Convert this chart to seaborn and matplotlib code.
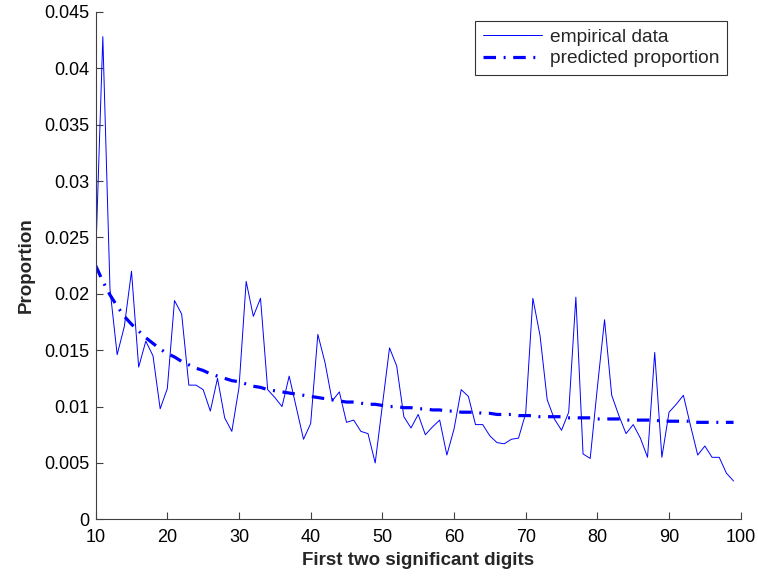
import pandas as pd
import seaborn as sns
import matplotlib.pyplot as plt
from matplotlib.ticker import FuncFormatter

digits = list(range(10, 100))

empirical = [
    0.0231, 0.0428, 0.0204, 0.0146, 0.0171, 0.0220, 0.0135, 0.0158, 0.0145, 0.0098,
    0.0116, 0.0194, 0.0182, 0.0119, 0.0119, 0.0115, 0.0096, 0.0125, 0.0090, 0.0078,
    0.0117, 0.0211, 0.0180, 0.0196, 0.0115, 0.0108, 0.0100, 0.0127, 0.0099, 0.0071,
    0.0085, 0.0164, 0.0139, 0.0105, 0.0113, 0.0086, 0.0088, 0.0078, 0.0076, 0.0050,
    0.0101, 0.0152, 0.0136, 0.0091, 0.0081, 0.0093, 0.0075, 0.0082, 0.0088, 0.0057,
    0.0080, 0.0115, 0.0109, 0.0084, 0.0084, 0.0074, 0.0068, 0.0067, 0.0071, 0.0072,
    0.0094, 0.0196, 0.0163, 0.0106, 0.0089, 0.0079, 0.0095, 0.0197, 0.0058, 0.0054,
    0.0117, 0.0177, 0.0110, 0.0092, 0.0076, 0.0084, 0.0072, 0.0055, 0.0148, 0.0055,
    0.0095, 0.0102, 0.0110, 0.0083, 0.0057, 0.0065, 0.0055, 0.0055, 0.0041, 0.0034,
]

predicted = [
    0.0225, 0.0211, 0.0199, 0.0189, 0.0180, 0.0173, 0.0167, 0.0161, 0.0156, 0.0151,
    0.0147, 0.0144, 0.0140, 0.0137, 0.0134, 0.0132, 0.0129, 0.0127, 0.0125, 0.0123,
    0.0122, 0.0120, 0.0118, 0.0117, 0.0115, 0.0114, 0.0113, 0.0112, 0.0111, 0.0110,
    0.0109, 0.0108, 0.0107, 0.0106, 0.0105, 0.0104, 0.0104, 0.0103, 0.0102, 0.0102,
    0.0101, 0.0100, 0.0100, 0.0099, 0.0099, 0.0098, 0.0098, 0.0097, 0.0097, 0.0096,
    0.0096, 0.0095, 0.0095, 0.0095, 0.0094, 0.0094, 0.0093, 0.0093, 0.0093, 0.0092,
    0.0092, 0.0092, 0.0091, 0.0091, 0.0091, 0.0091, 0.0090, 0.0090, 0.0090, 0.0090,
    0.0089, 0.0089, 0.0089, 0.0089, 0.0088, 0.0088, 0.0088, 0.0088, 0.0088, 0.0087,
    0.0087, 0.0087, 0.0087, 0.0087, 0.0086, 0.0086, 0.0086, 0.0086, 0.0086, 0.0086,
]

df = pd.DataFrame({"digits": digits, "empirical": empirical, "predicted": predicted})

sns.set_style("ticks")
plt.rcParams["font.family"] = ["Liberation Sans", "DejaVu Sans"]
plt.rcParams["lines.scale_dashes"] = False

fig = plt.figure(figsize=(7.58, 5.78), dpi=100)
ax = fig.add_axes([0.1262, 0.1015, 0.851, 0.878])

sns.lineplot(data=df, x="digits", y="empirical", ax=ax, color="#0000ff",
             linewidth=0.7, legend=False)
sns.lineplot(data=df, x="digits", y="predicted", ax=ax, color="#0000ff",
             linewidth=2.3, linestyle=(0, (9, 5.5, 1.4, 5.5)), legend=False)

ax.set_xlim(10, 100)
ax.set_ylim(0, 0.045)
ax.set_xticks(range(10, 101, 10))
ax.set_yticks([i * 0.005 for i in range(10)])
ax.yaxis.set_major_formatter(FuncFormatter(lambda v, p: "%g" % round(v, 4)))

for side in ["top", "right"]:
    ax.spines[side].set_visible(False)
for side in ["left", "bottom"]:
    ax.spines[side].set_color("#404040")
    ax.spines[side].set_linewidth(0.8)
ax.tick_params(direction="in", length=5, width=0.8, color="#404040",
               labelsize=13, labelcolor="black")
ax.tick_params(axis="x", pad=7)
ax.tick_params(axis="y", pad=4.5)

ax.set_xlabel("First two significant digits", fontsize=13.5, fontweight="bold", labelpad=4)
ax.set_ylabel("Proportion", fontsize=13.5, fontweight="bold", labelpad=7)

leg = ax.legend(handles=ax.lines[:2], labels=["empirical data", "predicted proportion"],
                loc="upper right", bbox_to_anchor=(0.979, 0.982), fontsize=13.8,
                frameon=True, fancybox=False, borderpad=0.4, handlelength=3.1,
                handletextpad=0.4, labelspacing=0.2, borderaxespad=0)
leg.get_frame().set_edgecolor("black")
leg.get_frame().set_linewidth(0.8)

plt.savefig("out.png", dpi=100)
